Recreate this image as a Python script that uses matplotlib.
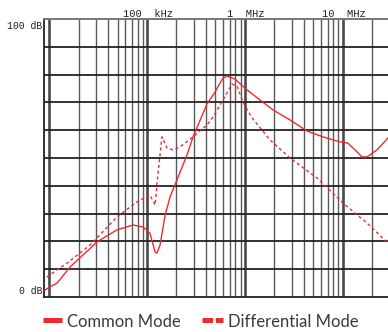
import matplotlib
matplotlib.use("Agg")
import matplotlib.pyplot as plt
from matplotlib.lines import Line2D
import matplotlib.transforms as mtransforms
import numpy as np

# ---- data ----
cm_freq_khz = [9.1, 10.2, 12.1, 16.4, 22.2, 30.9, 49, 72, 91, 107, 121, 126, 136,
               153, 172, 202, 256, 295, 409, 494, 556, 600, 655, 790, 1050, 1420, 1930,
               2880, 4300, 6250, 9300, 11200, 13900, 15600, 17600, 22200, 28800]
cm_db = [2.5, 3.6, 5.0, 10.8, 15.1, 19.8, 24.1, 25.9, 25.2, 23.0, 16.2, 15.8, 18.7,
         29.5, 36.0, 42.1, 51.1, 57.6, 69.4, 73.7, 77.0, 78.8, 79.5, 78.4, 74.5, 70.9, 67.3,
         63.7, 59.7, 57.6, 55.8, 55.4, 52.2, 50.4, 50.4, 52.9, 57.2]

dm_freq_khz = [9.5, 15.3, 26.2, 49.4, 79, 107, 121, 126, 142, 160, 184, 217, 295,
               409, 471, 597, 736, 828, 955, 1180, 1800, 2880, 5430, 10000, 17600, 28100]
dm_db = [7.2, 12.2, 18.7, 28.8, 34.2, 36.7, 33.1, 40.3, 57.6, 53.6, 52.9, 54.0, 57.6,
         61.9, 64.7, 70.9, 76.6, 75.9, 70.1, 64.4, 56.5, 50.0, 42.8, 33.8, 26.6, 19.8]

freq_labels = ["100  kHz", "1  MHz", "10  MHz"]
freq_label_pos_hz = [1e5, 1e6, 1e7]
db_labels = ["100 dB", "0 dB"]
series_names = ["Common Mode", "Differential Mode"]

RED = "#ee2a2e"
TXT = "#3a3a3a"

fig = plt.figure(figsize=(3.88, 3.32), dpi=100)
ax = fig.add_axes([44/388, 35/332, (388-44)/388, 278/332])
ax.set_xscale("log")
ax.set_xlim(8.89e3, 2.88e7)
ax.set_ylim(0, 100)

# grid
for dec in [1e4, 1e5, 1e6, 1e7]:
    for m in range(1, 10):
        f = dec * m
        if f < 8.89e3 or f > 2.88e7:
            continue
        if m == 1:
            ax.axvline(f, color="#4a4a4a", lw=1.9, zorder=1)
        else:
            ax.axvline(f, color="#5a5a5a", lw=1.0, zorder=1)
for y in range(10, 100, 10):
    ax.axhline(y, color="#222222", lw=1.3, zorder=1)

ax.set_xticks([])
ax.set_yticks([])
ax.minorticks_off()
ax.tick_params(which="both", length=0)
for s in ["left", "bottom"]:
    ax.spines[s].set_color("#222222")
    ax.spines[s].set_linewidth(1.3)
ax.spines["top"].set_color("#777777")
ax.spines["top"].set_linewidth(1.4)
ax.spines["right"].set_visible(False)

# curves
ax.plot(np.array(cm_freq_khz) * 1e3, cm_db, color=RED, lw=1.0, zorder=3, clip_on=False)
ax.plot(np.array(dm_freq_khz) * 1e3, dm_db, color=RED, lw=1.0, zorder=3,
        dashes=(2.2, 2.0), clip_on=False)

# axis text labels
mono = ["Liberation Mono", "DejaVu Sans Mono"]
trans_top = mtransforms.blended_transform_factory(ax.transData, ax.transAxes)
for lab, f in zip(freq_labels, freq_label_pos_hz):
    ax.annotate(lab, xy=(f, 1.0), xycoords=trans_top, xytext=(0.5, 1.6),
                textcoords="offset points", ha="center", va="baseline",
                fontsize=7.6, family=mono, color="#222222")
ax.annotate(db_labels[0], xy=(0, 1.0), xycoords="axes fraction", xytext=(-1.4, -7.3),
            textcoords="offset points", ha="right", va="baseline",
            fontsize=7.0, family=mono, color="#222222")
ax.annotate(db_labels[1], xy=(0, 0.0), xycoords="axes fraction", xytext=(-1.4, 2.2),
            textcoords="offset points", ha="right", va="baseline",
            fontsize=7.0, family=mono, color="#222222")

# legend (manual)
H = 332.0
W = 388.0
ly = 1 - 319.5 / H
fig.add_artist(Line2D([43/W, 62/W], [ly, ly], color=RED, lw=3.6,
                      solid_capstyle="butt", transform=fig.transFigure))
fig.add_artist(Line2D([202/W, 223/W], [ly, ly], color=RED, lw=3.6,
                      dashes=(2.1, 0.6), dash_capstyle="butt", transform=fig.transFigure))
sans = ["Lato", "DejaVu Sans"]
fig.text(67/W, 1 - 327/H, series_names[0], ha="left", va="baseline",
         fontsize=12.0, family=sans, color=TXT)
fig.text(228/W, 1 - 327/H, series_names[1], ha="left", va="baseline",
         fontsize=12.0, family=sans, color=TXT)

fig.savefig("out.png", dpi=100)
